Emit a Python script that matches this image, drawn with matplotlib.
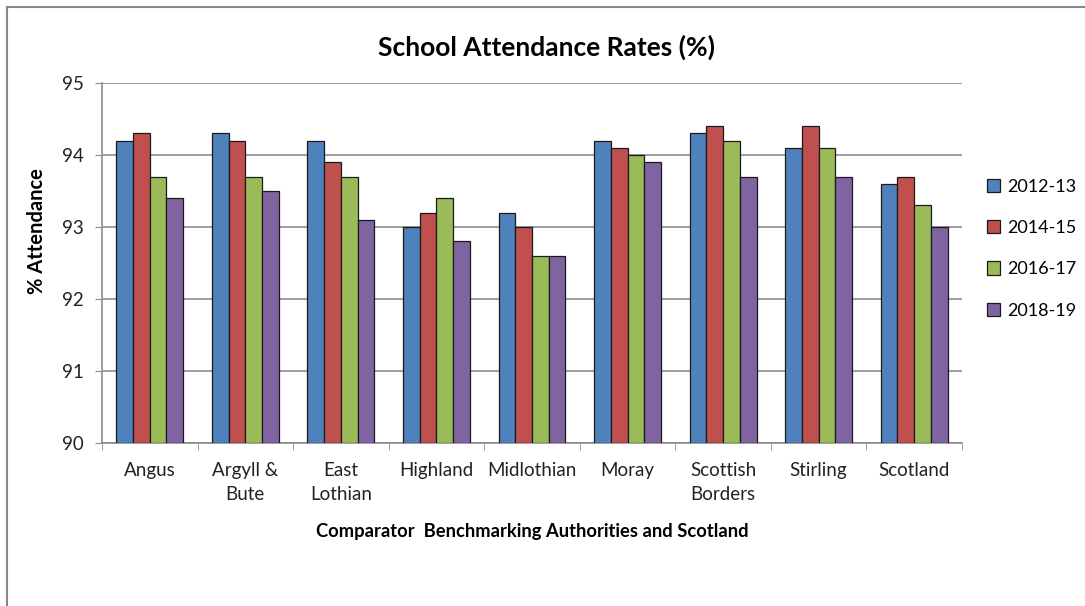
import numpy as np
import matplotlib.pyplot as plt
from matplotlib.lines import Line2D

plt.rcParams['font.family'] = ['Lato', 'DejaVu Sans']

# Data
authorities = ['Angus', 'Argyll &\nBute', 'East\nLothian', 'Highland', 'Midlothian',
               'Moray', 'Scottish\nBorders', 'Stirling', 'Scotland']
years = ['2012-13', '2014-15', '2016-17', '2018-19']
att_2012 = [94.2, 94.3, 94.2, 93.0, 93.2, 94.2, 94.3, 94.1, 93.6]
att_2014 = [94.3, 94.2, 93.9, 93.2, 93.0, 94.1, 94.4, 94.4, 93.7]
att_2016 = [93.7, 93.7, 93.7, 93.4, 92.6, 94.0, 94.2, 94.1, 93.3]
att_2018 = [93.4, 93.5, 93.1, 92.8, 92.6, 93.9, 93.7, 93.7, 93.0]
colors = ['#4F81BD', '#C0504D', '#9BBB59', '#8064A2']

series = [att_2012, att_2014, att_2016, att_2018]

fig = plt.figure(figsize=(10.85, 6.06), dpi=100)
ax = fig.add_axes([0.094, 0.269, 0.7926, 0.594])

x = np.arange(len(authorities))
w = 0.175
for i, vals in enumerate(series):
    ax.bar(x + (i - 1.5) * w, np.array(vals) - 90, width=w, bottom=90,
           color=colors[i], edgecolor='#1a1a1a', linewidth=0.9,
           label=years[i], zorder=3)

ax.set_xlim(-0.5, len(authorities) - 0.5)
ax.set_ylim(90, 95)
ax.set_yticks([90, 91, 92, 93, 94, 95])
ax.yaxis.grid(True, color='#8c8c8c', linewidth=1.2, zorder=0)
ax.set_xticks(x)
ax.set_xticklabels(authorities, fontsize=13.5, linespacing=1.45, color='#222222')
ax.set_xticks(np.arange(-0.5, len(authorities)), minor=True)
ax.tick_params(axis='x', which='major', length=0, pad=14)
ax.tick_params(axis='x', which='minor', length=5, color='#8c8c8c')
ax.tick_params(axis='y', labelsize=13.5, labelcolor='#222222', length=5,
               color='#8c8c8c', pad=8)

for s in ['top', 'right']:
    ax.spines[s].set_visible(False)
for s in ['left', 'bottom']:
    ax.spines[s].set_color('#8c8c8c')
    ax.spines[s].set_linewidth(1.2)

ax.set_ylabel('% Attendance', fontsize=14.5, fontweight='bold')
ax.yaxis.set_label_coords(-0.075, 0.59)
ax.yaxis.label.set_va('center')
ax.set_xlabel('Comparator  Benchmarking Authorities and Scotland', fontsize=13.2,
              fontweight='bold')
ax.xaxis.set_label_coords(0.5, -0.247)
ax.xaxis.label.set_va('center')
fig.text(0.504, 0.922, 'School Attendance Rates (%)', ha='center', va='center',
         fontsize=19, fontweight='bold')

leg = ax.legend(loc='center left', bbox_to_anchor=(1.01, 0.54), frameon=False,
                fontsize=13, handlelength=0.75, handleheight=0.75,
                labelspacing=1.4, handletextpad=0.4)

# chart border
fig.add_artist(Line2D([0.006, 1.0], [0.988, 0.988], color='#888888', linewidth=1.5))
fig.add_artist(Line2D([0.006, 0.006], [0.0, 0.988], color='#888888', linewidth=1.5))

fig.savefig('out.png', dpi=100)
